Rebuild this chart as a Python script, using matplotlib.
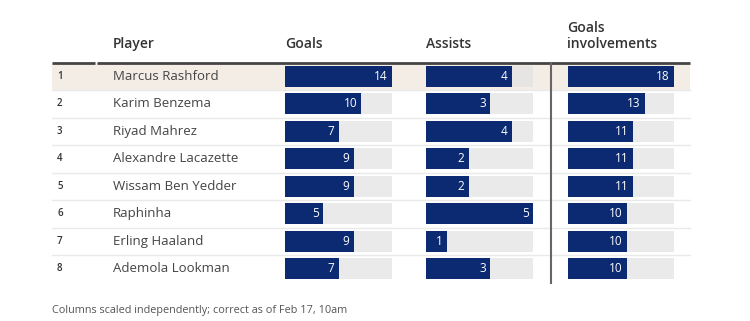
import matplotlib.pyplot as plt

plt.rcParams["font.family"] = ["Open Sans", "DejaVu Sans"]

ranks = [1, 2, 3, 4, 5, 6, 7, 8]
players = ["Marcus Rashford", "Karim Benzema", "Riyad Mahrez", "Alexandre Lacazette",
           "Wissam Ben Yedder", "Raphinha", "Erling Haaland", "Ademola Lookman"]
goals = [14, 10, 7, 9, 9, 5, 9, 7]
assists = [4, 3, 4, 2, 2, 5, 1, 3]
involvements = [18, 13, 11, 11, 11, 10, 10, 10]
headers = ["Player", "Goals", "Assists", "Goals\ninvolvements"]
footnote = "Columns scaled independently; correct as of Feb 17, 10am"

W, H = 750, 321
NAVY = "#0b2a72"
TRACK = "#e3e3e3"
HIGHLIGHT = "#f4ede5"

fig = plt.figure(figsize=(W / 100, H / 100), dpi=100)

# background axes in pixel units
bg = fig.add_axes([0, 0, 1, 1])
bg.set_xlim(0, W)
bg.set_ylim(H, 0)
bg.axis("off")

top, bottom = 62.5, 282.5
n = len(players)
row_h = (bottom - top) / n
left, right = 52, 690

# highlighted first row
bg.axhspan(top, top + row_h, xmin=left / W, xmax=right / W, color=HIGHLIGHT, lw=0, zorder=0)

# row separators
for i in range(1, n):
    y = top + i * row_h
    bg.plot([left, right], [y, y], color="#e9e9e9", lw=1, zorder=1)

# header rule with small gap
bg.plot([left, 95], [top, top], color="#444444", lw=2, zorder=2, solid_capstyle="butt")
bg.plot([97, right], [top, top], color="#444444", lw=2, zorder=2, solid_capstyle="butt")

# vertical divider before involvements column
bg.plot([551, 551], [top, bottom], color="#666666", lw=1.5, zorder=2)

# headers
head_x = [113, 285, 426, 567]
for hx, h in zip(head_x, headers):
    bg.text(hx, 51, h, ha="left", va="bottom", fontsize=10, color="#333333",
            fontweight="semibold", linespacing=1.2)

# rank and names
for i, (r, p) in enumerate(zip(ranks, players)):
    yc = top + (i + 0.5) * row_h
    bg.text(57, yc, str(r), ha="left", va="center", fontsize=7, color="#333333",
            fontweight="semibold")
    bg.text(113, yc, p, ha="left", va="center", fontsize=9.5, color="#444444")

bg.text(52, 310, footnote, ha="left", va="center", fontsize=7.8, color="#555555")

# bar columns, each scaled independently
columns = [(285, 392, goals), (426, 533, assists), (568, 674, involvements)]
for x0, x1, vals in columns:
    ax = fig.add_axes([x0 / W, 1 - bottom / H, (x1 - x0) / W, (bottom - top) / H])
    vmax = max(vals)
    ax.set_xlim(0, vmax)
    ax.set_ylim(n - 0.5, -0.5)
    ax.axis("off")
    ax.patch.set_alpha(0)
    ys = list(range(n))
    ax.barh(ys, [vmax] * n, height=0.76, color=TRACK, alpha=0.75, lw=0)
    ax.barh(ys, vals, height=0.76, color=NAVY, lw=0)
    for y, v in zip(ys, vals):
        ax.annotate(str(v), (v, y), xytext=(-3, 0), textcoords="offset points",
                    ha="right", va="center", color="white", fontsize=8.5)

fig.savefig("out.png", dpi=100)
